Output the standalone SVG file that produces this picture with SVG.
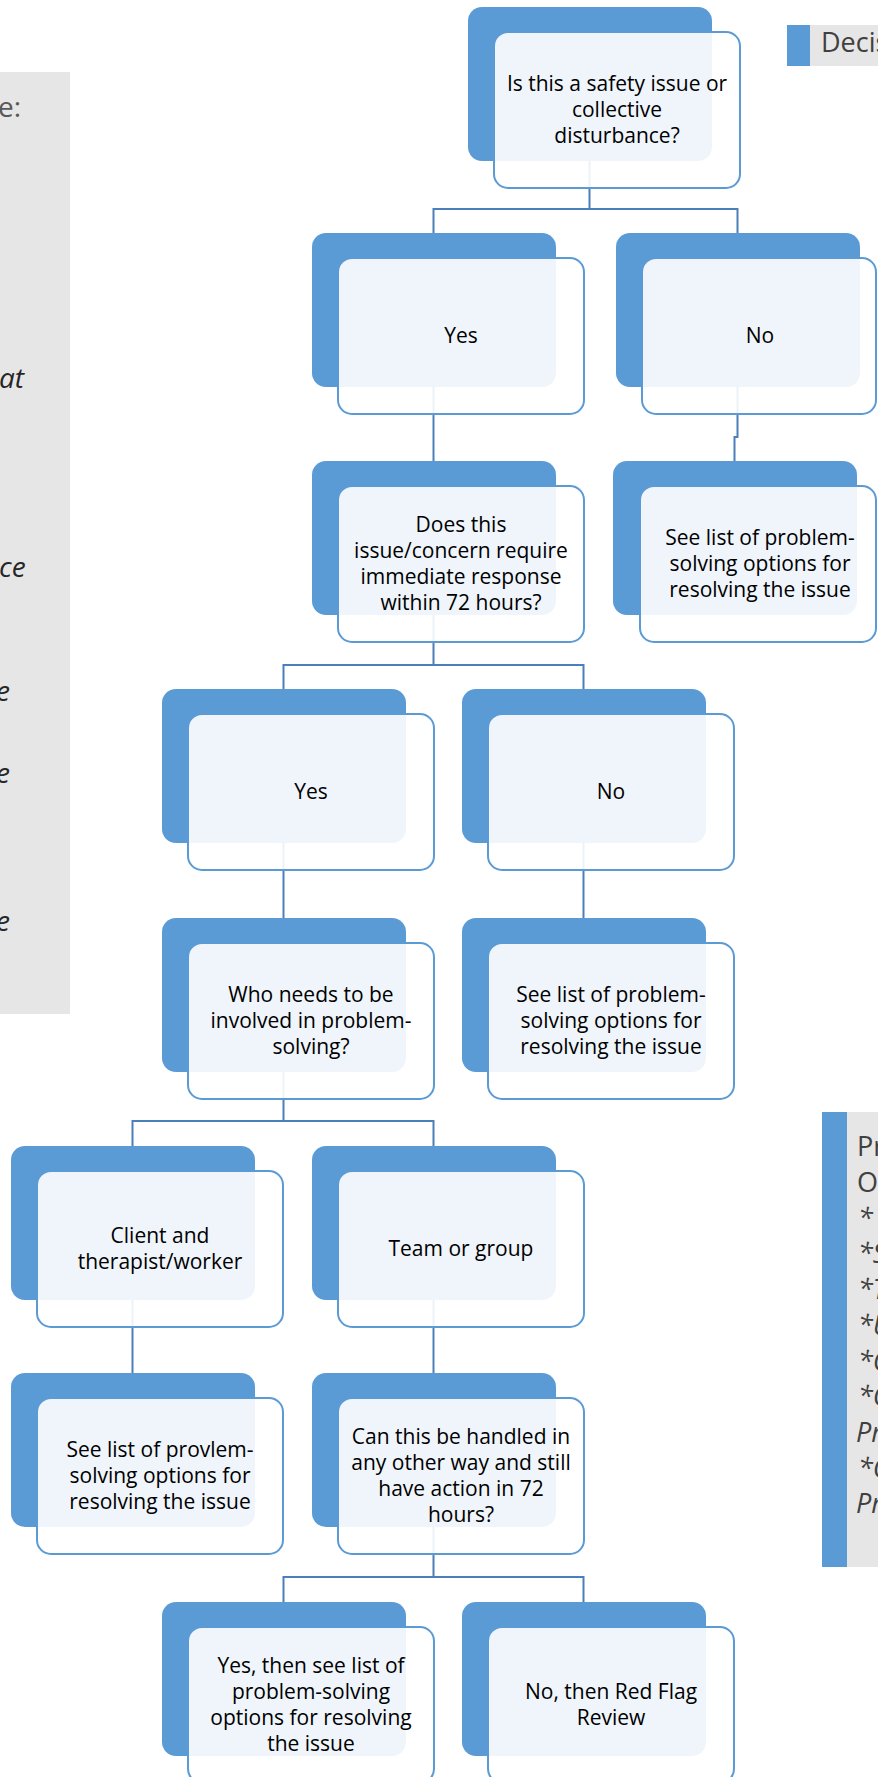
<svg xmlns="http://www.w3.org/2000/svg" width="878" height="1777" viewBox="0 0 878 1777">
<style>
.back{fill:#5B9BD5}
.front{fill:#FFFFFF;fill-opacity:0.9;stroke:#5B9BD5;stroke-width:2}
.lbl{font-family:"Open Sans","Liberation Sans",sans-serif;font-size:21px;fill:#000;text-anchor:middle}
.conn{fill:none;stroke:#4A7FBA;stroke-width:2}
.side{fill:#E7E6E6}
.bar{fill:#5B9BD5}
.st{font-family:"Open Sans","Liberation Sans",sans-serif;font-size:27px;fill:#404040}
.it{font-family:"Open Sans","Liberation Sans",sans-serif;font-size:28px;font-style:italic;fill:#262626}
</style>
<rect width="878" height="1777" fill="#FFFFFF"/>
<g id="side-left">
<rect class="side" x="0" y="72" width="70" height="942"/>
<text class="st" x="-2" y="117" style="font-size:28px;fill:#595959">e:</text>
<text class="it" x="-1" y="388">at</text>
<text class="it" x="-1" y="577">ce</text>
<text class="it" x="-4" y="701">e</text>
<text class="it" x="-4" y="783">e</text>
<text class="it" x="-4" y="931">e</text>
</g>
<g id="side-top-right">
<rect class="bar" x="787" y="25" width="23" height="41"/>
<rect class="side" x="810" y="25" width="68" height="41"/>
<text class="st" x="821" y="52">Decis</text>
</g>
<g id="side-bottom-right">
<rect class="bar" x="822" y="1112" width="25" height="455"/>
<rect class="side" x="847" y="1112" width="31" height="455"/>
<text class="st" x="857" y="1156">Pr</text>
<text class="st" x="857" y="1192">Op</text>
<g class="st" style="font-style:italic">
<text x="858" y="1228">*</text>
<text x="858" y="1263">*S</text>
<text x="858" y="1299">*T</text>
<text x="858" y="1335">*U</text>
<text x="858" y="1371">*C</text>
<text x="858" y="1406">*C</text>
<text x="856" y="1442">Pr</text>
<text x="858" y="1478">*C</text>
<text x="856" y="1513">Pr</text>
</g>
</g>
<g id="connectors" class="conn">
<path d="M589.5,161 V209 M433.5,233 V209 H737.5 V233"/>
<path d="M433.5,387 V461"/>
<path d="M737.5,387 V437 H734.5 V461"/>
<path d="M433.5,615 V665 M283.5,689 V665 H583.5 V689"/>
<path d="M283.5,843 V918"/>
<path d="M583.5,843 V918"/>
<path d="M283.5,1072 V1121 M132.5,1146 V1121 H433.5 V1146"/>
<path d="M132.5,1300 V1373"/>
<path d="M433.5,1300 V1373"/>
<path d="M433.5,1527 V1577 M283.5,1602 V1577 H583.5 V1602"/>
</g>
<g id="n1">
<rect class="back" x="468" y="7" width="244" height="154" rx="14"/>
<rect class="front" x="494" y="32" width="246" height="156" rx="14"/>
<text class="lbl" y="90.7"><tspan x="617">Is this a safety issue or</tspan><tspan x="617" dy="26.3">collective</tspan><tspan x="617" dy="26.3">disturbance?</tspan></text>
</g>
<g id="n2">
<rect class="back" x="312" y="233" width="244" height="154" rx="14"/>
<rect class="front" x="338" y="258" width="246" height="156" rx="14"/>
<text class="lbl" x="461" y="343">Yes</text>
</g>
<g id="n3">
<rect class="back" x="616" y="233" width="244" height="154" rx="14"/>
<rect class="front" x="642" y="258" width="234" height="156" rx="14"/>
<text class="lbl" x="760" y="343">No</text>
</g>
<g id="n4">
<rect class="back" x="312" y="461" width="244" height="154" rx="14"/>
<rect class="front" x="338" y="486" width="246" height="156" rx="14"/>
<text class="lbl" y="531.5"><tspan x="461">Does this</tspan><tspan x="461" dy="26.3">issue/concern require</tspan><tspan x="461" dy="26.3">immediate response</tspan><tspan x="461" dy="26.3">within 72 hours?</tspan></text>
</g>
<g id="n5">
<rect class="back" x="613" y="461" width="244" height="154" rx="14"/>
<rect class="front" x="640" y="486" width="236" height="156" rx="14"/>
<text class="lbl" y="544.7"><tspan x="760">See list of problem-</tspan><tspan x="760" dy="26.3">solving options for</tspan><tspan x="760" dy="26.3">resolving the issue</tspan></text>
</g>
<g id="n6">
<rect class="back" x="162" y="689" width="244" height="154" rx="14"/>
<rect class="front" x="188" y="714" width="246" height="156" rx="14"/>
<text class="lbl" x="311" y="799">Yes</text>
</g>
<g id="n7">
<rect class="back" x="462" y="689" width="244" height="154" rx="14"/>
<rect class="front" x="488" y="714" width="246" height="156" rx="14"/>
<text class="lbl" x="611" y="799">No</text>
</g>
<g id="n8">
<rect class="back" x="162" y="918" width="244" height="154" rx="14"/>
<rect class="front" x="188" y="943" width="246" height="156" rx="14"/>
<text class="lbl" y="1001.7"><tspan x="311">Who needs to be</tspan><tspan x="311" dy="26.3">involved in problem-</tspan><tspan x="311" dy="26.3">solving?</tspan></text>
</g>
<g id="n9">
<rect class="back" x="462" y="918" width="244" height="154" rx="14"/>
<rect class="front" x="488" y="943" width="246" height="156" rx="14"/>
<text class="lbl" y="1001.7"><tspan x="611">See list of problem-</tspan><tspan x="611" dy="26.3">solving options for</tspan><tspan x="611" dy="26.3">resolving the issue</tspan></text>
</g>
<g id="n10">
<rect class="back" x="11" y="1146" width="244" height="154" rx="14"/>
<rect class="front" x="37" y="1171" width="246" height="156" rx="14"/>
<text class="lbl" y="1242.9"><tspan x="160">Client and</tspan><tspan x="160" dy="26.3">therapist/worker</tspan></text>
</g>
<g id="n11">
<rect class="back" x="312" y="1146" width="244" height="154" rx="14"/>
<rect class="front" x="338" y="1171" width="246" height="156" rx="14"/>
<text class="lbl" x="461" y="1256">Team or group</text>
</g>
<g id="n12">
<rect class="back" x="11" y="1373" width="244" height="154" rx="14"/>
<rect class="front" x="37" y="1398" width="246" height="156" rx="14"/>
<text class="lbl" y="1456.7"><tspan x="160">See list of provlem-</tspan><tspan x="160" dy="26.3">solving options for</tspan><tspan x="160" dy="26.3">resolving the issue</tspan></text>
</g>
<g id="n13">
<rect class="back" x="312" y="1373" width="244" height="154" rx="14"/>
<rect class="front" x="338" y="1398" width="246" height="156" rx="14"/>
<text class="lbl" y="1443.5"><tspan x="461">Can this be handled in</tspan><tspan x="461" dy="26.3">any other way and still</tspan><tspan x="461" dy="26.3">have action in 72</tspan><tspan x="461" dy="26.3">hours?</tspan></text>
</g>
<g id="n14">
<rect class="back" x="162" y="1602" width="244" height="154" rx="14"/>
<rect class="front" x="188" y="1627" width="246" height="156" rx="14"/>
<text class="lbl" y="1672.5"><tspan x="311">Yes, then see list of</tspan><tspan x="311" dy="26.3">problem-solving</tspan><tspan x="311" dy="26.3">options for resolving</tspan><tspan x="311" dy="26.3">the issue</tspan></text>
</g>
<g id="n15">
<rect class="back" x="462" y="1602" width="244" height="154" rx="14"/>
<rect class="front" x="488" y="1627" width="246" height="156" rx="14"/>
<text class="lbl" x="611" y="1698.9"><tspan x="611">No, then Red Flag</tspan><tspan x="611" dy="26.3">Review</tspan></text>
</g>
</svg>
